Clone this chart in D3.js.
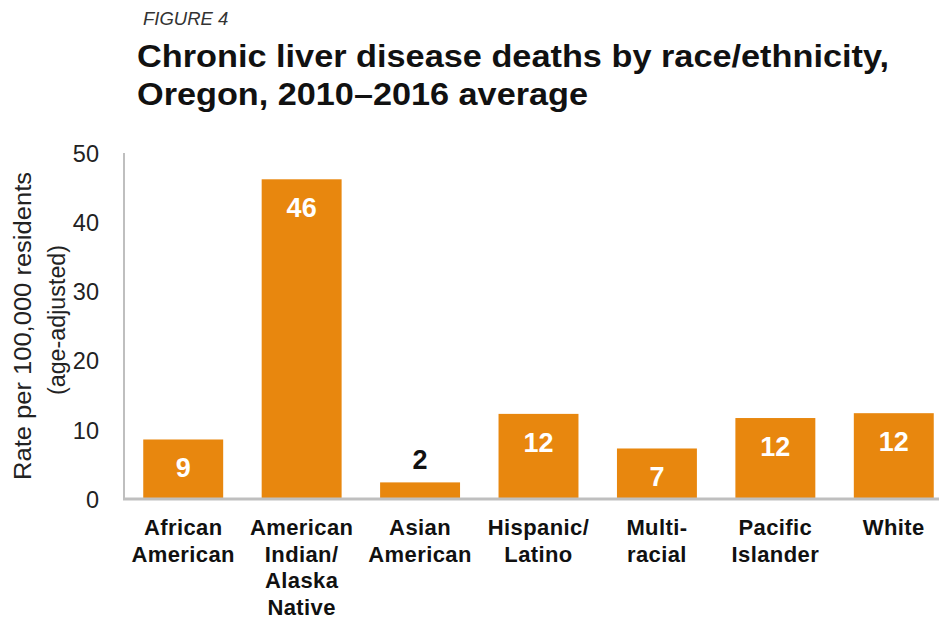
<!DOCTYPE html>
<html>
<head>
<meta charset="utf-8">
<script src="https://cdn.jsdelivr.net/npm/d3@7"></script>
<style>
  html, body { margin: 0; padding: 0; background: #fff; }
  svg { display: block; font-family: "Liberation Sans", Arial, sans-serif; }
</style>
</head>
<body>
<svg id="chart" width="939" height="619"></svg>
<script>
// Chronic liver disease deaths, age-adjusted rate per 100,000, Oregon 2010–2016
const categories = [
  "African American",
  "American Indian/ Alaska Native",
  "Asian American",
  "Hispanic/ Latino",
  "Multi-racial",
  "Pacific Islander",
  "White"
];
const categoryLines = [
  ["African", "American"],
  ["American", "Indian/", "Alaska", "Native"],
  ["Asian", "American"],
  ["Hispanic/", "Latino"],
  ["Multi-", "racial"],
  ["Pacific", "Islander"],
  ["White"]
];
const rates = [8.6, 46.2, 2.4, 12.3, 7.3, 11.7, 12.4];
const yTicks = [0, 10, 20, 30, 40, 50];

const figureLabel = "FIGURE 4";
const titleLines = [
  "Chronic liver disease deaths by race/ethnicity,",
  "Oregon, 2010\u20132016 average"
];
const yTitleLines = ["Rate per 100,000 residents", "(age-adjusted)"];

const svg = d3.select("#chart");
const barColor = "#E8870E";
const axisColor = "#BFBFBF";

const x = d3.scaleBand()
  .domain(categories)
  .range([124, 953])
  .paddingInner(0.325)
  .paddingOuter(0.1625);

const y = d3.scaleLinear().domain([0, 50]).range([499, 153]);

// Headings
svg.append("text")
  .attr("x", 143).attr("y", 25)
  .attr("font-size", 18.5).attr("font-style", "italic")
  .attr("fill", "#333")
  .text(figureLabel);

const titleWidths = [752, 451];
titleLines.forEach((t, i) => {
  svg.append("text")
    .attr("x", 137).attr("y", 67 + i * 38)
    .attr("font-size", 31).attr("font-weight", "bold")
    .attr("fill", "#111")
    .attr("textLength", titleWidths[i])
    .attr("lengthAdjust", "spacingAndGlyphs")
    .text(t);
});

// Y axis: labels only, plus a plain gray spine
const yAxis = d3.axisLeft(y).tickValues(yTicks).tickSize(0).tickPadding(0);
const gy = svg.append("g").attr("transform", "translate(99,0)").call(yAxis);
gy.select(".domain").remove();
gy.selectAll("text")
  .attr("font-size", 23.5)
  .attr("font-family", "Liberation Sans, Arial, sans-serif")
  .attr("fill", "#222")
  .attr("dy", "0.35em");

svg.append("line")
  .attr("x1", 124).attr("x2", 124)
  .attr("y1", y(50)).attr("y2", y(0))
  .attr("stroke", axisColor).attr("stroke-width", 2);

// Y axis title (two rotated lines)
const yTitleX = [23, 57];
const yTitleY = [326, 320];
const yTitleLen = [308, 150];
yTitleLines.forEach((t, i) => {
  svg.append("text")
    .attr("transform", `translate(${yTitleX[i]},${yTitleY[i]}) rotate(-90)`)
    .attr("text-anchor", "middle")
    .attr("dy", "0.35em")
    .attr("font-size", 23)
    .attr("fill", "#222")
    .attr("textLength", yTitleLen[i])
    .attr("lengthAdjust", "spacingAndGlyphs")
    .text(t);
});

// Bars
svg.append("g").selectAll("rect")
  .data(categories)
  .join("rect")
  .attr("x", d => x(d))
  .attr("width", x.bandwidth())
  .attr("y", (d, i) => y(rates[i]))
  .attr("height", (d, i) => y(0) - y(rates[i]))
  .attr("fill", barColor);

// Baseline
svg.append("line")
  .attr("x1", 123).attr("x2", 953)
  .attr("y1", y(0)).attr("y2", y(0))
  .attr("stroke", axisColor).attr("stroke-width", 3);

// Value labels
const fmt = d3.format(".0f");
svg.append("g").selectAll("text")
  .data(categories)
  .join("text")
  .attr("x", d => x(d) + x.bandwidth() / 2)
  .attr("y", (d, i) => rates[i] < 5 ? y(rates[i]) - 13 : y(rates[i]) + 38)
  .attr("text-anchor", "middle")
  .attr("font-size", 27)
  .attr("font-weight", "bold")
  .attr("fill", (d, i) => rates[i] < 5 ? "#111" : "#fff")
  .text((d, i) => fmt(rates[i]));

// Category labels
const cat = svg.append("g").selectAll("text")
  .data(categories)
  .join("text")
  .attr("text-anchor", "middle")
  .attr("font-size", 22)
  .attr("font-weight", "bold")
  .attr("letter-spacing", 0.4)
  .attr("fill", "#111");
cat.each(function (d, i) {
  const t = d3.select(this);
  categoryLines[i].forEach((line, j) => {
    t.append("tspan")
      .attr("x", x(d) + x.bandwidth() / 2)
      .attr("y", 535 + j * 26.5)
      .text(line);
  });
});
</script>
</body>
</html>
